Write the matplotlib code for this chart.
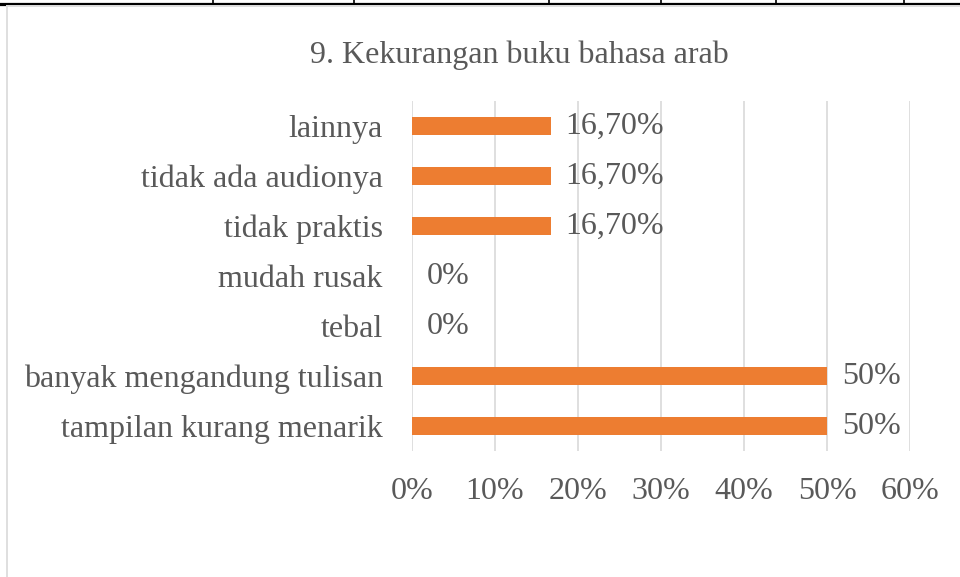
import matplotlib
matplotlib.use("Agg")
import matplotlib.pyplot as plt
from matplotlib.lines import Line2D
import matplotlib.ticker as ticker

categories = ["tampilan kurang menarik", "banyak mengandung tulisan", "tebal",
              "mudah rusak", "tidak praktis", "tidak ada audionya", "lainnya"]
values = [50, 50, 0, 0, 16.7, 16.7, 16.7]
value_labels = ["50%", "50%", "0%", "0%", "16,70%", "16,70%", "16,70%"]
title = "9. Kekurangan buku bahasa arab"

W, H = 960, 577
text_col = "#595959"
bar_col = "#ED7D31"
grid_col = "#D9D9D9"
plt.rcParams['font.family'] = ['Liberation Serif', 'DejaVu Serif']

fig = plt.figure(figsize=(W / 100, H / 100), dpi=100)
fig.patch.set_facecolor("white")

# page/table decorations around the chart
fig.add_artist(Line2D([0, 1], [1 - 3.5 / H] * 2, color="black", lw=1.6))
for xp in [213, 354, 549, 661, 776, 904]:
    fig.add_artist(Line2D([xp / W] * 2, [1, 1 - 3.5 / H], color="black", lw=1.2))
fig.add_artist(Line2D([0, 5 / W], [1 - 5 / H] * 2, color="black", lw=1.6))
fig.add_artist(Line2D([7 / W, 1], [1 - 5.5 / H] * 2, color=grid_col, lw=1.2))
fig.add_artist(Line2D([7 / W] * 2, [1 - 5.5 / H, 0], color=grid_col, lw=1.2))

left, right, top, bottom = 412, 910, 101, 451
ax = fig.add_axes([left / W, 1 - bottom / H, (right - left) / W, (bottom - top) / H])

fs = 23
y = range(len(categories))
ax.barh(y, values, height=0.35, color=bar_col, zorder=3)
for yi, v, lab in zip(y, values, value_labels):
    ax.text(v + 1.8, yi, lab, va="center", ha="left", fontsize=fs, color=text_col)

ax.set_xlim(0, 60)
ax.set_ylim(-0.5, len(categories) - 0.5)
ax.xaxis.set_major_locator(ticker.MultipleLocator(10))
ax.xaxis.set_major_formatter(ticker.FuncFormatter(lambda v, p: f"{v:.0f}%"))
ax.set_yticks(list(y))
ax.set_yticklabels(categories)
ax.grid(axis="x", color=grid_col, lw=1.2, zorder=0)
for s in ax.spines.values():
    s.set_visible(False)
ax.tick_params(axis="both", length=0, labelsize=fs, labelcolor=text_col)
ax.tick_params(axis="y", pad=21)
ax.tick_params(axis="x", pad=19)

fig.text(519 / W, 1 - 55 / H, title, ha="center", va="center", fontsize=fs, color=text_col)

fig.savefig("out.png", dpi=100)
